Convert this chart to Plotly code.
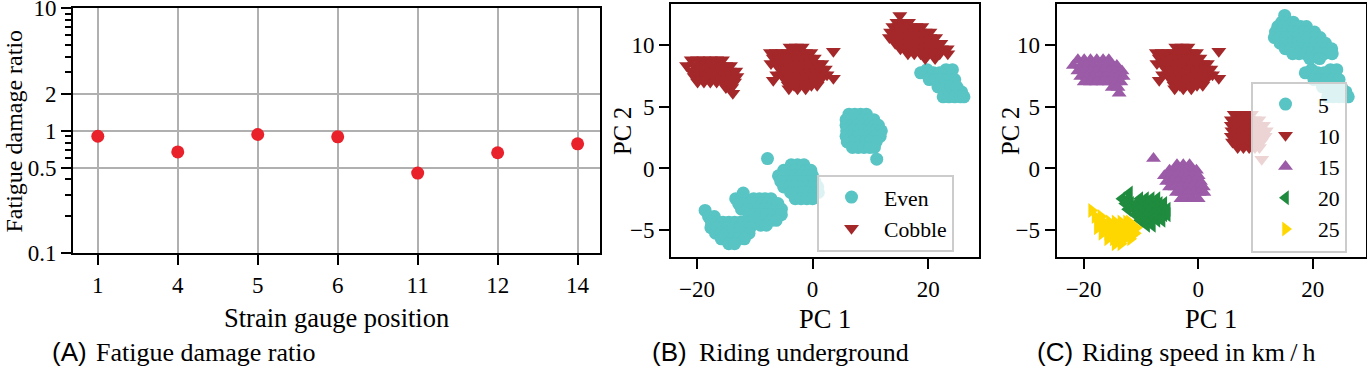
import plotly.graph_objects as go

# ---------------- Panel A: fatigue damage ratio ----------------
gauge_positions = ["1", "4", "5", "6", "11", "12", "14"]
damage_ratio = [0.90, 0.67, 0.93, 0.89, 0.45, 0.66, 0.78]
damage_ticks = [0.1, 0.5, 1, 2, 10]
damage_ticklabels = ["0.1", "0.5", "1", "2", "10"]
damage_minor = [0.2, 0.3, 0.4, 0.6, 0.7, 0.8, 0.9, 3, 4, 5, 6, 7, 8, 9]

# ---------------- Panels B/C: PCA scores ----------------
# each cluster: rows of (PC 2 value, [PC 1 values])
cobble15_rows = [
    (8.8, [-21.0, -19.9, -18.8, -17.7, -16.6, -15.6]),
    (8.35, [-21.8, -20.5, -19.4, -18.3, -17.2, -16.1, -15.0, -14.2]),
    (7.9, [-21.0, -19.9, -18.8, -17.7, -16.6, -15.5, -14.4, -13.3]),
    (7.45, [-20.5, -19.4, -18.3, -17.2, -16.1, -15.0, -13.9, -13.1]),
    (7.0, [-19.9, -18.8, -17.7, -16.6, -15.5, -14.4, -13.5]),
    (6.55, [-15.0, -14.0]),
    (6.1, [-13.8]),
]
cobble10_rows = [
    (9.85, [-3.9, -2.8, -1.8]),
    (9.4, [-7.3, -6.3, -5.2, -4.2, -3.2, -2.2, -1.2, -0.3]),
    (8.95, [-6.8, -5.8, -4.7, -3.7, -2.7, -1.7, -0.7, 0.3]),
    (8.5, [-7.2, -6.2, -5.2, -4.2, -3.2, -2.2, -1.2, -0.2, 0.8, 1.6]),
    (8.05, [-5.7, -4.7, -3.7, -2.7, -1.7, -0.7, 0.3, 1.3, 2.2]),
    (7.6, [-6.2, -5.2, -4.2, -3.2, -2.2, -1.2, -0.2, 0.8, 1.8, 2.5]),
    (7.15, [-6.8, -4.7, -3.7, -2.7, -1.7, -0.7, 0.3, 1.3]),
    (6.75, [-4.2, -3.2, -2.2, -1.2, -0.2, 0.8]),
    (6.45, [-4.1, -2.6, -1.2]),
    (9.5, [3.6]),
    (7.3, [3.6]),
]
cobble5_rows = [
    (12.4, [15.1]),
    (11.85, [14.6, 15.6, 16.6]),
    (11.5, [13.9, 14.9, 15.9, 16.9, 17.9, 18.9]),
    (11.05, [13.5, 14.5, 15.5, 16.5, 17.5, 18.5, 19.5, 20.3]),
    (10.6, [13.3, 14.3, 15.3, 16.3, 17.3, 18.3, 19.3, 20.3, 21.3]),
    (10.15, [14.3, 15.3, 16.3, 17.3, 18.3, 19.3, 20.3, 21.3, 22.2]),
    (9.7, [15.2, 16.2, 17.2, 18.2, 19.2, 20.2, 21.2, 22.3, 23.3]),
    (9.3, [16.5, 17.6, 18.7, 19.8, 20.9, 22.0, 23.4]),
    (8.9, [19.5, 21.2]),
]
even5_rows = [
    (8.0, [19.8, 23.1, 24.2]),
    (7.75, [18.7, 20.9, 22.0]),
    (7.2, [20.2, 21.3, 22.4, 23.5, 24.6]),
    (6.6, [21.7, 22.8, 23.9, 25.0]),
    (6.2, [25.8]),
    (5.8, [22.6, 23.6, 24.6, 25.6, 26.2]),
]
even10_rows = [
    (4.4, [6.3, 7.3, 8.3, 9.3]),
    (3.95, [5.8, 6.8, 7.8, 8.8, 9.8, 10.6]),
    (3.5, [5.8, 6.8, 7.8, 8.8, 9.8, 10.8, 11.4]),
    (3.05, [5.9, 6.9, 7.9, 8.9, 9.9, 10.9, 11.9]),
    (2.6, [5.8, 6.8, 7.8, 8.8, 9.8, 10.8, 11.7]),
    (2.15, [6.0, 7.0, 8.0, 9.0, 10.0, 11.0]),
    (1.7, [6.9, 7.9, 8.9, 9.9, 10.7]),
    (0.75, [11.1]),
]
even15_rows = [
    (0.3, [-3.7, -2.6, -1.5]),
    (-0.15, [-5.0, -4.0, -3.0, -2.0, -1.0, -0.3]),
    (-0.6, [-5.9, -4.9, -3.9, -2.9, -1.9, -0.9, 0.0]),
    (-1.05, [-5.5, -4.5, -3.5, -2.5, -1.5, -0.5, 0.4]),
    (-1.5, [-5.0, -4.0, -3.0, -2.0, -1.0, 0.0, 0.9]),
    (-1.95, [-3.8, -2.8, -1.8, -0.8, 0.2, 1.0]),
    (-2.45, [-3.0, -2.0, -1.0, 0.0]),
    (0.8, [-7.8]),
]
even20_rows = [
    (-2.0, [-12.0]),
    (-2.45, [-13.3, -12.3, -10.2, -9.2, -8.2, -7.2]),
    (-2.85, [-12.8, -11.8, -10.8, -9.8, -8.8, -7.8, -6.8, -6.0]),
    (-3.3, [-12.3, -11.3, -10.3, -9.3, -8.3, -7.3, -6.3, -5.4]),
    (-3.75, [-11.0, -10.0, -9.0, -8.0, -7.0, -6.0, -5.4]),
    (-4.2, [-10.2, -9.2, -8.2, -7.2, -6.3]),
    (-4.6, [-9.0, -8.0]),
]
even25_rows = [
    (-3.4, [-18.6]),
    (-3.9, [-18.0, -17.0]),
    (-4.35, [-17.5, -16.5, -15.5, -14.5, -13.5, -12.5, -12.0]),
    (-4.8, [-17.6, -16.6, -15.6, -14.6, -13.6, -12.6, -11.6, -10.8]),
    (-5.25, [-16.8, -15.8, -14.8, -13.8, -12.8, -11.8, -11.0]),
    (-5.7, [-15.8, -14.8, -13.8, -12.8, -11.8]),
    (-6.1, [-14.5, -13.5]),
]

surfaces = ["Even", "Cobble"]
speeds = [5, 10, 15, 20, 25]
clusters = [
    ("Even", 5, even5_rows),
    ("Even", 10, even10_rows),
    ("Even", 15, even15_rows),
    ("Even", 20, even20_rows),
    ("Even", 25, even25_rows),
    ("Cobble", 5, cobble5_rows),
    ("Cobble", 10, cobble10_rows),
    ("Cobble", 15, cobble15_rows),
]

pc_xticks = [-20, 0, 20]
pc_xticklabels = ["\u221220", "0", "20"]
pc_yticks = [-5, 0, 5, 10]
pc_yticklabels = ["\u22125", "0", "5", "10"]

# ---------------- styling ----------------
SERIF = "Liberation Serif"
SANS = "Liberation Sans"
W, H = 1367, 368
CYAN = "#58c4c4"
DRED = "#a4282a"
PURPLE = "#9b5ba7"
GREEN = "#1f8b3e"
GOLD = "#ffd700"
surface_style = {"Even": (CYAN, "circle", 13), "Cobble": (DRED, "triangle-down", 13)}
speed_style = {5: (CYAN, "circle", 13), 10: (DRED, "triangle-down", 13),
               15: (PURPLE, "triangle-up", 13), 20: (GREEN, "triangle-left", 13),
               25: (GOLD, "triangle-right", 13)}


def collect(select):
    xs, ys = [], []
    for surf, spd, rows in clusters:
        if select(surf, spd):
            for yv, xrow in rows:
                xs += xrow
                ys += [yv] * len(xrow)
    return xs, ys


fig = go.Figure()

fig.add_trace(go.Scatter(x=gauge_positions, y=damage_ratio, mode="markers",
                         marker=dict(color="#e8212b", size=13, line=dict(width=0)),
                         xaxis="x", yaxis="y", showlegend=False))

for s in surfaces:
    xs, ys = collect(lambda surf, spd: surf == s)
    col, sym, sz = surface_style[s]
    fig.add_trace(go.Scatter(x=xs, y=ys, mode="markers", name=s,
                             marker=dict(color=col, symbol=sym, size=sz, line=dict(width=0)),
                             xaxis="x2", yaxis="y2", legend="legend"))

for v in speeds:
    xs, ys = collect(lambda surf, spd: spd == v)
    col, sym, sz = speed_style[v]
    fig.add_trace(go.Scatter(x=xs, y=ys, mode="markers", name=str(v),
                             marker=dict(color=col, symbol=sym, size=sz, line=dict(width=0)),
                             xaxis="x3", yaxis="y3", legend="legend2"))

tickfont = dict(family=SERIF, size=23, color="black")
frame = dict(showline=True, linecolor="black", linewidth=2, mirror=True,
             ticks="outside", ticklen=10, tickwidth=2, tickcolor="black",
             tickfont=tickfont, zeroline=False, automargin=False,
             ticklabeloverflow="allow")


def px(v):
    return v / W


def py(v):
    return 1 - v / H


legend_common = dict(xanchor="left", yanchor="top", bgcolor="rgba(255,255,255,0.8)",
                     bordercolor="#cccccc", borderwidth=2, itemwidth=55,
                     font=dict(family=SERIF, size=21.7, color="black"), tracegroupgap=0)

fig.update_layout(
    width=W, height=H, margin=dict(l=0, r=0, t=0, b=0),
    paper_bgcolor="white", plot_bgcolor="white",
    font=dict(family=SERIF, size=23, color="black"),
    xaxis=dict(domain=[px(73), px(600)], anchor="y", type="category",
               range=[-0.31, 6.28], showgrid=True, gridcolor="#b0b0b0", gridwidth=2,
               **frame),
    yaxis=dict(domain=[py(253.3), py(8.0)], anchor="x", type="log", range=[-1.002, 1.002],
               tickvals=damage_ticks, ticktext=damage_ticklabels,
               showgrid=True, gridcolor="#b0b0b0", gridwidth=2,
               minor=dict(tickvals=damage_minor, ticks="outside", ticklen=6,
                          tickwidth=1.5, tickcolor="black", showgrid=False),
               **frame),
    xaxis2=dict(domain=[px(671), px(979)], anchor="y2", range=[-24.5, 28.8],
                tickvals=pc_xticks, ticktext=pc_xticklabels, showgrid=False, **frame),
    yaxis2=dict(domain=[py(257.3), py(4.3)], anchor="x2", range=[-7.2, 13.3],
                tickvals=pc_yticks, ticktext=pc_yticklabels, showgrid=False, **frame),
    xaxis3=dict(domain=[px(1056.7), px(1366.0)], anchor="y3", range=[-24.7, 29.3],
                tickvals=pc_xticks, ticktext=pc_xticklabels, showgrid=False, **frame),
    yaxis3=dict(domain=[py(257.3), py(4.3)], anchor="x3", range=[-7.2, 13.3],
                tickvals=pc_yticks, ticktext=pc_yticklabels, showgrid=False, **frame),
    legend=dict(x=px(817), y=py(174.5), **legend_common),
    legend2=dict(x=px(1251), y=py(81.5), **legend_common),
)


def note(text, x, y, family=SERIF, size=25, angle=0, xanchor="center"):
    fig.add_annotation(text=text, x=x, y=y, xref="paper", yref="paper",
                       xanchor=xanchor, yanchor="middle", showarrow=False,
                       textangle=angle, font=dict(family=family, size=size, color="black"))


# axis titles
note("Strain gauge position", px(336.5), py(318), size=26.5)
note("Fatigue damage ratio", px(13.5), py(131), size=24, angle=-90)
note("PC 1", px(825), py(319), size=26.5)
note("PC 2", px(622), py(131), size=24.5, angle=-90)
note("PC 1", px(1211), py(319), size=26.5)
note("PC 2", px(1010), py(131), size=24.5, angle=-90)

# panel captions
note("(A)", px(50), py(352), family=SANS, size=26, xanchor="left")
note("Fatigue damage ratio", px(94), py(352), size=26, xanchor="left")
note("(B)", px(650), py(352), family=SANS, size=26, xanchor="left")
note("Riding underground", px(697), py(352), size=26, xanchor="left")
note("(C)", px(1035), py(352), family=SANS, size=26, xanchor="left")
note("Riding speed in km\u2009/\u2009h", px(1080), py(352), size=26, xanchor="left")

# the page's default 8px body margin would shift the fixed-size figure
fig.write_html("out.html", config={"displayModeBar": False},
               post_script="document.body.style.margin='0';")
